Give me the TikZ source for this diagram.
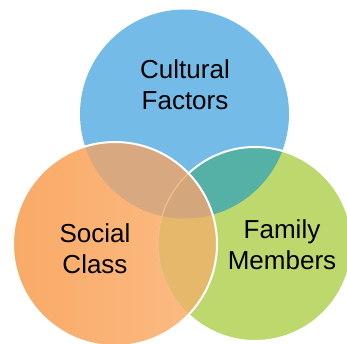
\documentclass[tikz,border=0pt]{standalone}
\usepackage{fontspec}
\setmainfont{Liberation Sans}
\definecolor{cblue}{HTML}{74BCE7}
\definecolor{cgreen}{HTML}{BDD86D}
\definecolor{cteal}{HTML}{55B1A6}
\definecolor{corangeL}{HTML}{F9AA67}
\definecolor{corangeR}{HTML}{FCBC85}
\definecolor{cob}{HTML}{D8A880}
\definecolor{cog}{HTML}{E6B86B}
\definecolor{cobg}{HTML}{D3A67B}
\definecolor{cline}{HTML}{F4BE8C}
\begin{document}
\begin{tikzpicture}[x=1pt,y=-1pt,
  lbl/.style={font=\fontsize{26}{31}\selectfont, align=center, text=black, inner sep=0pt},
  edgewhite/.style={draw=white, line width=2pt}]
\useasboundingbox (0,0) rectangle (347,343);
\coordinate (B) at (184.5,114);
\coordinate (G) at (255,244);
\coordinate (O) at (115,244);
\def\rB{104.5pt}
\def\rG{97pt}
\def\rO{102pt}
% blue and green
\fill[cblue] (B) circle (\rB);
\fill[cgreen] (G) circle (\rG);
\begin{scope}
  \clip (B) circle (\rB);
  \fill[cteal] (G) circle (\rG);
\end{scope}
\path[edgewhite] (G) circle (\rG);
% orange
\begin{scope}
  \clip (O) circle (\rO);
  \shade[left color=corangeL, right color=corangeR] (13,142) rectangle (217,346);
  \fill[cob] (B) circle (\rB);
  \fill[cog] (G) circle (\rG);
  \begin{scope}
    \clip (G) circle (\rG);
    \fill[cobg] (B) circle (\rB);
  \end{scope}
  \draw[cline, line width=1.2pt] (G) circle (\rG);
\end{scope}
\path[edgewhite] (O) circle (\rO);
% labels
\node[lbl] (cf) at (185,84.5) {Cultural\\Factors};
\node[lbl] (sc) at (95,248.5) {Social\\Class};
\node[lbl] (fm) at (282,244.5) {Family\\Members};
\end{tikzpicture}
\end{document}
